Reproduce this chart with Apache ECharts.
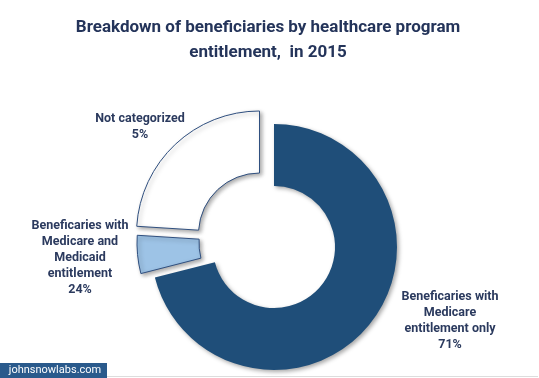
<!DOCTYPE html>
<html><head><meta charset="utf-8">
<script src="https://cdn.jsdelivr.net/npm/echarts@6/dist/echarts.min.js"></script>
<style>html,body{margin:0;padding:0;background:#fff}#c{width:539px;height:378px}</style>
</head><body><div id="c"></div>
<script>
var titleText = 'Breakdown of beneficiaries by healthcare program\nentitlement,  in 2015';
var categories = ['Medicare only', 'Medicare and Medicaid', 'Not categorized'];
var values = [71, 5, 24];
var labelNames = ['Beneficaries with\nMedicare\nentitlement only', 'Beneficaries with\nMedicare and\nMedicaid\nentitlement', 'Not categorized'];
var labelPercents = ['71%', '24%', '5%'];

// layout / style (not data)
var fills = ['#1f4e79', '#9dc3e6', '#ffffff'];
var labelCenters = [[450, 321], [80, 258], [140, 127]];
var sliceCenters = [[274, 247], [260, 243], [259.5, 234]];

var chart = echarts.init(document.getElementById('c'), null, {renderer: 'canvas'});

var series = categories.map(function (cat, k) {
  return {
    type: 'pie',
    center: sliceCenters[k],
    radius: [61, 123],
    startAngle: 90,
    clockwise: true,
    silent: true,
    z: 2 + k,
    data: categories.map(function (c, i) {
      var on = i === k;
      return {
        name: c, value: values[i],
        itemStyle: on ? {
          color: fills[i], borderColor: i === 0 ? fills[0] : '#2f4f7f', borderWidth: i === 0 ? 0 : 1,
          shadowBlur: 4, shadowOffsetX: 2, shadowOffsetY: 2, shadowColor: 'rgba(0,0,0,0.35)'
        } : {color: 'rgba(0,0,0,0)', borderWidth: 0},
        label: on ? {show: true, formatter: labelNames[i] + '\n' + labelPercents[i]} : {show: false}
      };
    }),
    label: {
      position: 'outside', color: '#2b3a5e', overflow: 'none',
      fontFamily: 'Roboto', fontWeight: 'bold', fontSize: 12.5, lineHeight: 16, align: 'center'
    },
    labelLine: {show: false},
    labelLayout: function (p) {
      var c = labelCenters[p.dataIndex];
      return {x: c[0], y: c[1], align: 'center', verticalAlign: 'middle'};
    },
    emphasis: {disabled: true}
  };
});

chart.setOption({
  animation: false,
  title: {
    text: titleText, left: 263, top: 10, textAlign: 'center',
    textStyle: {fontFamily: 'Roboto', fontWeight: 'bold', fontSize: 17, color: '#24345a', lineHeight: 25}
  },
  graphic: [
    {type: 'rect', shape: {x: 107, y: 376, width: 431, height: 1}, style: {fill: '#dddddd'}},
    {type: 'rect', shape: {x: 0, y: 363, width: 107, height: 15}, style: {fill: '#2a5a8c'}},
    {type: 'text', x: 55, y: 370, style: {text: 'johnsnowlabs.com', fill: '#ffffff', font: '11px Roboto', align: 'center', verticalAlign: 'middle'}}
  ],
  series: series
});
</script></body></html>
